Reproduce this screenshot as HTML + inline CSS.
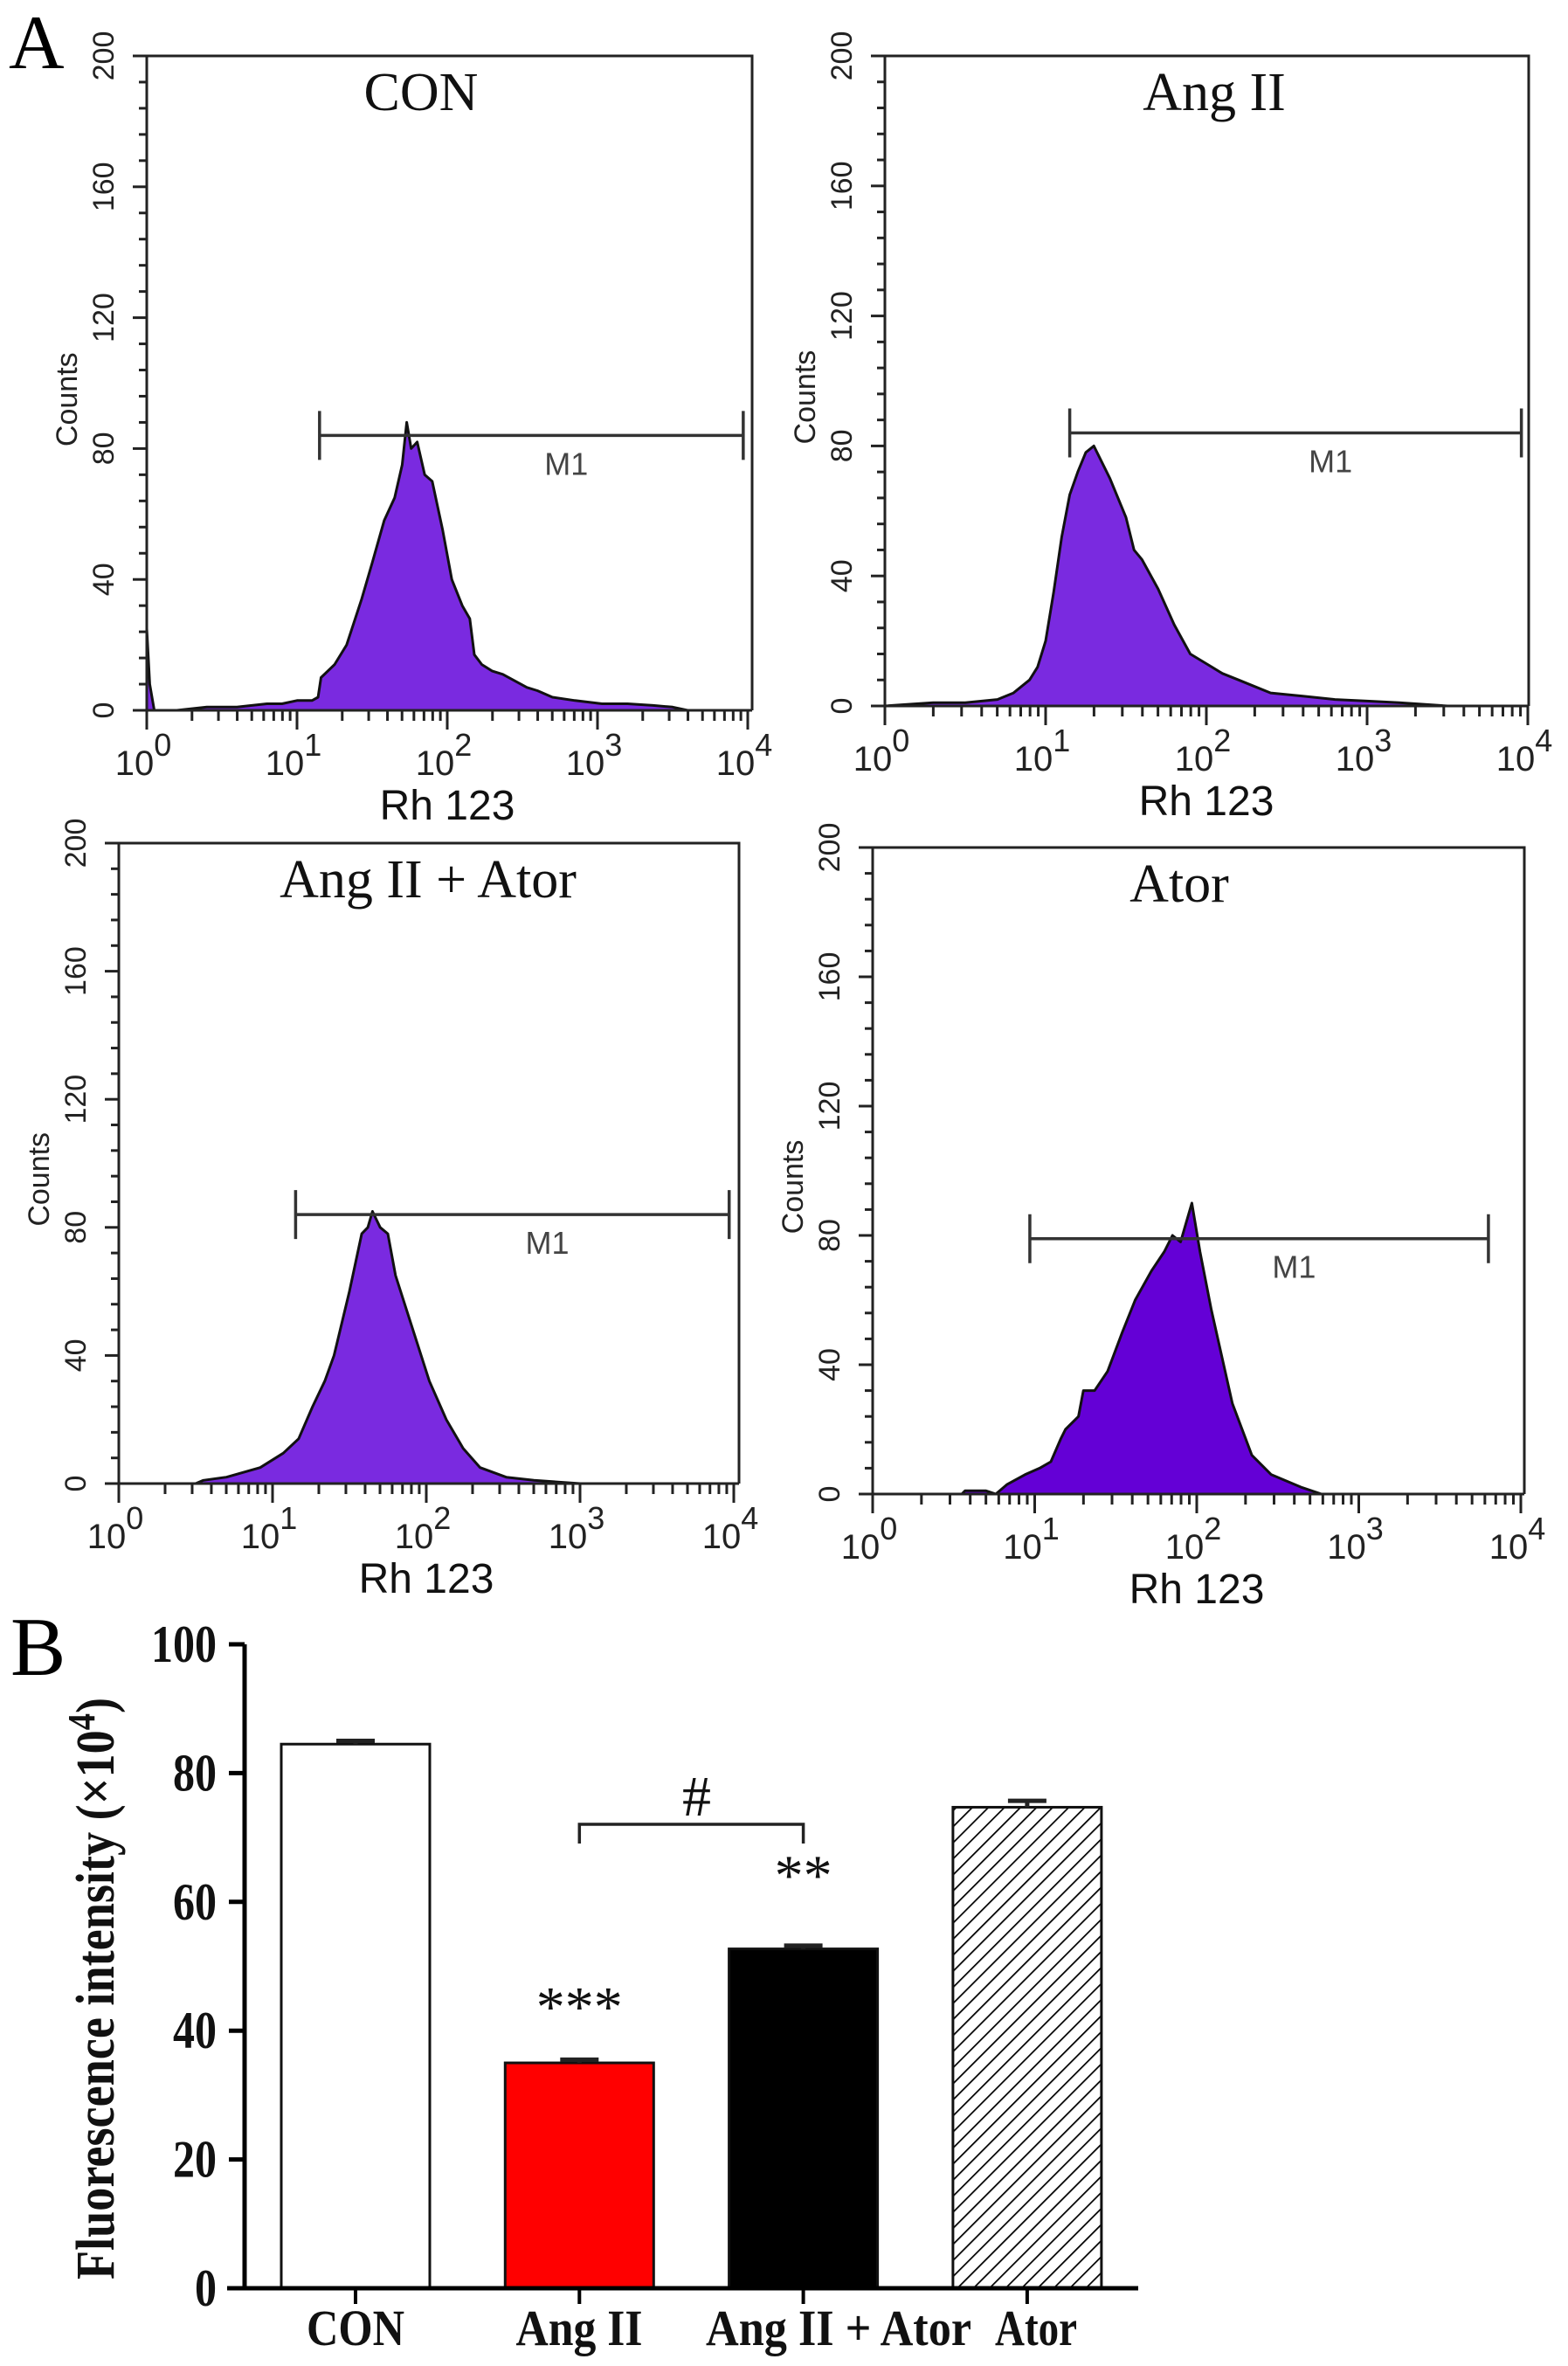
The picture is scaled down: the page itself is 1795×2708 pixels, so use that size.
<!DOCTYPE html>
<html><head><meta charset="utf-8"><style>
html,body{margin:0;padding:0;background:#fff}
svg{display:block}
</style></head><body>
<svg id="fig" xmlns="http://www.w3.org/2000/svg" width="1795" height="2708" viewBox="0 0 1795 2708">
<defs>
<pattern id="hatch" patternUnits="userSpaceOnUse" width="13" height="13" patternTransform="rotate(45)">
<rect width="13" height="13" fill="#fff"/><line x1="0" y1="0" x2="0" y2="13" stroke="#000" stroke-width="3.5"/>
</pattern>
</defs>
<text x="10" y="78" font-family="Liberation Serif, serif" font-size="88">A</text>
<text x="12" y="1917" font-family="Liberation Serif, serif" font-size="95">B</text>
<g id="hists"></g>
<g id="bars"></g>
</svg>
<script>
// ---------- Histogram data (log10 fluorescence vs counts) ----------
const conLogs   = [0,0.02,0.05,0.2,0.4,0.6,0.8,0.9,1.0,1.1,1.14,1.16,1.25,1.33,1.43,1.5,1.58,1.65,1.7,1.73,1.76,1.8,1.85,1.9,1.97,2.03,2.1,2.15,2.18,2.23,2.3,2.37,2.45,2.53,2.6,2.7,2.85,3.03,3.2,3.37,3.5,3.6,4.0];
const conCounts = [25,8,0,0,1,1,2,2,3,3,4,10,14,20,34,45,58,65,75,88,80,82,72,70,55,40,32,28,17,14,12,11,9,7,6,4,3,2,2,1.5,1,0,0];
const angLogs   = [0,0.3,0.5,0.7,0.8,0.9,0.95,1.0,1.05,1.1,1.15,1.2,1.25,1.3,1.4,1.5,1.55,1.6,1.7,1.8,1.9,2.0,2.1,2.2,2.3,2.4,2.6,2.8,3.0,3.2,3.5,4.0];
const angCounts = [0,1,1,2,4,8,12,20,35,52,65,72,78,80,70,58,48,45,36,25,16,13,10,8,6,4,3,2,1.5,1,0,0];
const combLogs   = [0.5,0.55,0.7,0.92,1.07,1.17,1.26,1.34,1.4,1.5,1.58,1.62,1.65,1.7,1.75,1.8,1.9,2.02,2.13,2.24,2.35,2.52,2.7,3.0];
const combCounts = [0,1,2,5,9.5,14,24,32,40,60,78,80,85,80,78,65,50,32,20,11,5,2,1,0];
const atorLogs   = [0.55,0.57,0.7,0.76,0.83,0.94,1.03,1.1,1.16,1.19,1.27,1.3,1.37,1.45,1.54,1.62,1.72,1.8,1.85,1.9,1.97,2.02,2.09,2.22,2.34,2.46,2.65,2.77];
const atorCounts = [0,1,1,0,3,6,8,10,17,20,24,32,32,38,50,60,69,75,80,78,90,75,57,28,12,6,2,0];
const panelTitles = ["CON","Ang II","Ang II + Ator","Ator"];
const gateStart = [1.15,1.15,1.15,0.97];
const gateEnd   = [3.97,3.96,3.97,3.8];
const gateCount = [84,84,84,79];
const yTicks = [0,40,80,120,160,200];
const xDecades = [0,1,2,3,4];

// ---------- Bar chart data ----------
const barCats   = ["CON","Ang II","Ang II + Ator","Ator"];
const barValues = [84.5,35.0,52.7,74.7];
const barErrors = [0.5,0.5,0.5,1.0];
const barTicks  = [0,20,40,60,80,100];
const barStars  = ["","***","**",""];

const NS="http://www.w3.org/2000/svg";
function mk(tag,attrs,parent){const e=document.createElementNS(NS,tag);for(const k in attrs)e.setAttribute(k,attrs[k]);parent.appendChild(e);return e;}

const panels=[
 {x0:168,x4:856,right:861,top:64,y0:813,fill:"#7a2ae0",logs:conLogs,counts:conCounts,title:482},
 {x0:1013,x4:1749,right:1750,top:64,y0:808,fill:"#7a2ae0",logs:angLogs,counts:angCounts,title:1390},
 {x0:136,x4:840,right:846,top:965,y0:1698,fill:"#7a2ae0",logs:combLogs,counts:combCounts,title:490},
 {x0:999,x4:1741,right:1745,top:970,y0:1710,fill:"#6400d6",logs:atorLogs,counts:atorCounts,title:1350}
];
const hg=document.getElementById('hists');
panels.forEach((p,i)=>{
  const g=mk('g',{},hg);
  
  
  const X=l=>p.x0+(p.x4-p.x0)*l/4;
  const Y=c=>p.y0-(p.y0-p.top)*c/200;
  let d='M'+X(p.logs[0])+','+p.y0;
  for(let k=0;k<p.logs.length;k++){d+=' L'+X(p.logs[k]).toFixed(1)+','+Y(p.counts[k]).toFixed(1);}
  d+=' L'+X(p.logs[p.logs.length-1])+','+p.y0+' Z';
  const h=mk('path',{d:d,fill:p.fill,stroke:'#111','stroke-width':3,'stroke-linejoin':'round'},g);
  
  
  const fr=mk('path',{d:`M${p.x0},${p.top} L${p.right},${p.top} L${p.right},${p.y0} M${p.x0},${p.top} L${p.x0},${p.y0} L${p.right},${p.y0}`,fill:'none',stroke:'#222','stroke-width':3},g);
  
  
  for(let c=0;c<=200;c+=8){
    const major=yTicks.includes(c);
    mk('line',{x1:p.x0-(major?16:9),x2:p.x0,y1:Y(c),y2:Y(c),stroke:'#222','stroke-width':3},g);
  }
  yTicks.forEach(t=>{
    const tx=mk('text',{x:0,y:0,transform:`translate(${p.x0-38},${Y(t)}) rotate(-90)`,'text-anchor':'middle','font-family':'Liberation Sans, sans-serif','font-size':34,fill:'#222'},g);
    tx.textContent=t;
    
    
  });
  const cl=mk('text',{transform:`translate(${p.x0-80},${Y(95)}) rotate(-90)`,'text-anchor':'middle','font-family':'Liberation Sans, sans-serif','font-size':34,fill:'#222'},g);
  cl.textContent='Counts';
  
  
  for(let dd=0;dd<4;dd++){
    for(let m=2;m<=9;m++){const l=dd+Math.log10(m);mk('line',{x1:X(l),x2:X(l),y1:p.y0,y2:p.y0+12,stroke:'#222','stroke-width':3},g);}
  }
  xDecades.forEach(dd=>{
    mk('line',{x1:X(dd),x2:X(dd),y1:p.y0,y2:p.y0+22,stroke:'#222','stroke-width':3},g);
    const tx=mk('text',{x:X(dd)-4,y:p.y0+74,'text-anchor':'middle','font-family':'Liberation Sans, sans-serif','font-size':40,fill:'#222'},g);
    tx.textContent='10';
    const s=mk('tspan',{dy:-22,'font-size':36},tx);s.textContent=dd;
    
    
  });
  const xl=mk('text',{x:X(2),y:p.y0+125,'text-anchor':'middle','font-family':'Liberation Sans, sans-serif','font-size':48,fill:'#111'},g);
  xl.textContent='Rh 123';
  
  
  const tt=mk('text',{x:p.title,y:p.top+62,'text-anchor':'middle','font-family':'Liberation Serif, serif','font-size':62,fill:'#111'},g);
  tt.textContent=panelTitles[i];
  
  
  const gy=Y(gateCount[i]);
  const gate=mk('path',{d:`M${X(gateStart[i])},${gy} L${X(gateEnd[i])},${gy} M${X(gateStart[i])},${gy-28} L${X(gateStart[i])},${gy+28} M${X(gateEnd[i])},${gy-28} L${X(gateEnd[i])},${gy+28}`,stroke:'#333','stroke-width':3.5,fill:'none'},g);
  
  
  const ml=mk('text',{x:(X(gateStart[i])+X(gateEnd[i]))/2+40,y:gy+45,'text-anchor':'middle','font-family':'Liberation Sans, sans-serif','font-size':36,fill:'#444'},g);
  ml.textContent='M1';
  
  
});

// ---------- Bar chart ----------
const bg=document.getElementById('bars');
const axX=280, yZero=2619, yTop=1882, vMax=100;
const BY=v=>yZero-(yZero-yTop)*v/vMax;
const barCenter=i=>407+256.3*i;
const barW=170;
const fills=['#fff','#ff0000','#000','url(#hatch)'];
barCats.forEach((c,i)=>{
  const cx=barCenter(i);
  const r=mk('rect',{x:cx-barW/2,y:BY(barValues[i]),width:barW,height:yZero-BY(barValues[i]),fill:fills[i],stroke:'#111','stroke-width':3},bg);
  
  
  const eTop=BY(barValues[i]+barErrors[i]);
  const e=mk('path',{d:`M${cx},${BY(barValues[i])} L${cx},${eTop} M${cx-22},${eTop} L${cx+22},${eTop}`,stroke:'#222','stroke-width':5},bg);
  
  
  mk('line',{x1:cx,x2:cx,y1:yZero,y2:yZero+18,stroke:'#000','stroke-width':4},bg);
  if(barStars[i]){
    const s=mk('text',{x:cx,y:BY(barValues[i])-(i===1?42:62),'text-anchor':'middle','font-family':'Liberation Serif, serif','font-size':66,fill:'#111'},bg);
    s.textContent=barStars[i];
    
    
  }
});
const labX=[407,663,960,1186];
const labW=[112,145,304,94];
barCats.forEach((c,i)=>{
  const t=mk('text',{x:labX[i],y:2684,'text-anchor':'middle','font-family':'Liberation Serif, serif','font-weight':'bold','font-size':58,fill:'#111',textLength:labW[i],lengthAdjust:'spacingAndGlyphs'},bg);
  t.textContent=c;
  
  
});
const ax=mk('path',{d:`M${axX},${yTop} L${axX},${yZero} M260,${yZero} L1303,${yZero}`,stroke:'#000','stroke-width':5,fill:'none'},bg);


barTicks.forEach(t=>{
  mk('line',{x1:262,x2:axX,y1:BY(t),y2:BY(t),stroke:'#000','stroke-width':5},bg);
  const tx=mk('text',{x:248,y:BY(t)+20,'text-anchor':'end','font-family':'Liberation Serif, serif','font-weight':'bold','font-size':60,fill:'#111',textLength:(String(t).length*25),lengthAdjust:'spacingAndGlyphs'},bg);
  tx.textContent=t;
  
  
});
const yt=mk('text',{transform:'translate(130,2276) rotate(-90)','text-anchor':'middle','font-family':'Liberation Serif, serif','font-weight':'bold','font-size':62,fill:'#111',textLength:666,lengthAdjust:'spacingAndGlyphs'},bg);
yt.textContent='Fluorescence intensity  (×10';
const sup=mk('tspan',{dy:-22,'font-size':44},yt);sup.textContent='4';
const cp=mk('tspan',{dy:22},yt);cp.textContent=')';


const b1=barCenter(1), b2=barCenter(2), bY=2088;
const br=mk('path',{d:`M${b1},${bY+22} L${b1},${bY} L${b2},${bY} L${b2},${bY+22}`,stroke:'#222','stroke-width':3.5,fill:'none'},bg);


const hs=mk('text',{x:(b1+b2)/2+6,y:bY-10,'text-anchor':'middle','font-family':'Liberation Serif, serif','font-size':66,fill:'#111'},bg);
hs.textContent='#';


</script>
</body></html>
